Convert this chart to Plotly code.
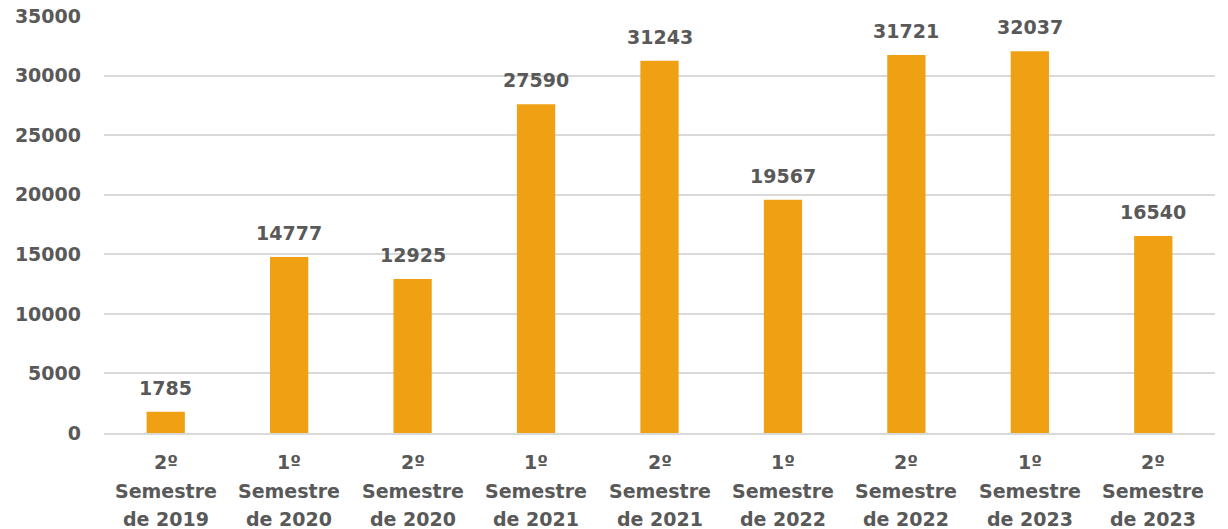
import plotly.graph_objects as go

line1 = ["2º", "1º", "2º", "1º", "2º", "1º", "2º", "1º", "2º"]
line2 = ["Semestre"] * 9
line3 = ["de 2019", "de 2020", "de 2020", "de 2021", "de 2021", "de 2022", "de 2022", "de 2023", "de 2023"]
categories = [f"{a} {b} {c}" for a, b, c in zip(line1, line2, line3)]
values = [1785, 14777, 12925, 27590, 31243, 19567, 31721, 32037, 16540]
y_ticks = [0, 5000, 10000, 15000, 20000, 25000, 30000, 35000]

FONT = "DejaVu Sans"
GREY = "#595959"
FS = 19

fig = go.Figure(go.Bar(
    x=categories, y=values,
    marker=dict(color="#EFA013", line=dict(width=0)),
    cliponaxis=False,
))

annotations = []
for cat, v in zip(categories, values):
    annotations.append(dict(
        x=cat, xref="x", y=v, yref="y", yshift=24,
        text=f"<b>{v}</b>", showarrow=False, yanchor="middle",
        font=dict(family=FONT, size=FS, color=GREY),
    ))
for cat, a, b, c in zip(categories, line1, line2, line3):
    for txt, yy in ((a, 462), (b, 491), (c, 519)):
        annotations.append(dict(
            x=cat, xref="x", y=(433 - yy) / 417, yref="paper",
            text=f"<b>{txt}</b>", showarrow=False, yanchor="middle",
            font=dict(family=FONT, size=FS, color=GREY),
        ))

fig.update_layout(
    width=1228, height=529,
    margin=dict(l=104, r=13, t=16, b=96, autoexpand=False),
    plot_bgcolor="white", paper_bgcolor="white",
    bargap=0.69, showlegend=False,
    annotations=annotations,
    xaxis=dict(showticklabels=False, showline=True, linecolor="#D9D9D9", linewidth=2,
               ticks="", showgrid=False, automargin=False),
    yaxis=dict(range=[0, 35000], tickvals=y_ticks,
               ticktext=[f"<b>{t}</b>" for t in y_ticks],
               showgrid=True, gridcolor="#D9D9D9", gridwidth=2, zeroline=False,
               tickfont=dict(family=FONT, size=FS, color=GREY),
               ticklabelstandoff=22, automargin=False),
)
fig.write_html("out.html", config={"displayModeBar": False},
               post_script="document.body.style.margin='0';document.body.style.overflow='hidden';")
